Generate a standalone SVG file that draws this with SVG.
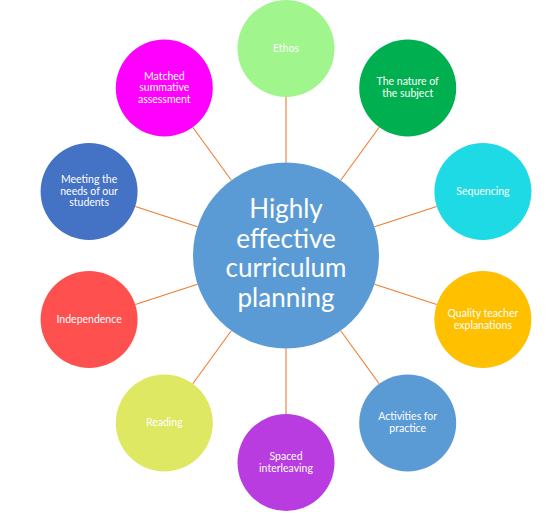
<svg xmlns="http://www.w3.org/2000/svg" width="552" height="524" viewBox="0 0 552 524">
<style>
.conn line{stroke:#ED7D31;stroke-width:1.1;}
.lbl{font-family:Lato,"Liberation Sans",sans-serif;font-size:10.5px;fill:#ffffff;text-anchor:middle;}
.big{font-family:Lato,"Liberation Sans",sans-serif;font-size:26px;fill:#ffffff;text-anchor:middle;}
</style>
<rect width="552" height="524" fill="#ffffff"/>
<g id="connectors" class="conn">
<line x1="286" y1="162.5" x2="286" y2="97"/>
<line x1="340.7" y1="180.3" x2="379.2" y2="127.3"/>
<line x1="374.5" y1="226.8" x2="436.7" y2="206.5"/>
<line x1="374.5" y1="284.2" x2="436.7" y2="304.5"/>
<line x1="340.7" y1="330.7" x2="379.2" y2="383.7"/>
<line x1="286" y1="348.5" x2="286" y2="414"/>
<line x1="231.3" y1="330.7" x2="192.8" y2="383.7"/>
<line x1="197.5" y1="284.2" x2="135.3" y2="304.5"/>
<line x1="197.5" y1="226.8" x2="135.3" y2="206.5"/>
<line x1="231.3" y1="180.3" x2="192.8" y2="127.3"/>
</g>
<g id="center">
<circle cx="286" cy="255.5" r="93" fill="#5B9BD5"/>
<text class="big" x="286" y="218">Highly</text>
<text class="big" x="286" y="247.5">effective</text>
<text class="big" x="286" y="277">curriculum</text>
<text class="big" x="286" y="306.5">planning</text>
</g>
<g id="ethos">
<circle cx="286" cy="48.5" r="48.5" fill="#A0F58C"/>
<text class="lbl" x="286" y="51.5">Ethos</text>
</g>
<g id="nature">
<circle cx="407.7" cy="88" r="48.5" fill="#00B050"/>
<text class="lbl" x="407.7" y="85">The nature of</text>
<text class="lbl" x="407.7" y="97">the subject</text>
</g>
<g id="sequencing">
<circle cx="482.9" cy="191.5" r="48.5" fill="#1EDAE4"/>
<text class="lbl" x="482.9" y="194.5">Sequencing</text>
</g>
<g id="quality">
<circle cx="482.9" cy="319.5" r="48.5" fill="#FFC000"/>
<text class="lbl" x="482.9" y="317">Quality teacher</text>
<text class="lbl" x="482.9" y="329">explanations</text>
</g>
<g id="activities">
<circle cx="407.7" cy="423" r="48.5" fill="#5B9BD5"/>
<text class="lbl" x="407.7" y="420">Activities for</text>
<text class="lbl" x="407.7" y="432">practice</text>
</g>
<g id="spaced">
<circle cx="286" cy="462.5" r="48.5" fill="#B83CE0"/>
<text class="lbl" x="286" y="460">Spaced</text>
<text class="lbl" x="286" y="472">interleaving</text>
</g>
<g id="reading">
<circle cx="164.3" cy="423" r="48.5" fill="#DEE862"/>
<text class="lbl" x="164.3" y="426">Reading</text>
</g>
<g id="independence">
<circle cx="89.1" cy="319.5" r="48.5" fill="#FF5050"/>
<text class="lbl" x="89.1" y="322.5">Independence</text>
</g>
<g id="meeting">
<circle cx="89.1" cy="191.5" r="48.5" fill="#4472C4"/>
<text class="lbl" x="89.1" y="183">Meeting the</text>
<text class="lbl" x="89.1" y="194.5">needs of our</text>
<text class="lbl" x="89.1" y="206">students</text>
</g>
<g id="matched">
<circle cx="164.3" cy="88" r="48.5" fill="#FF00FF"/>
<text class="lbl" x="164.3" y="79.5">Matched</text>
<text class="lbl" x="164.3" y="91">summative</text>
<text class="lbl" x="164.3" y="102.5">assessment</text>
</g>
</svg>
